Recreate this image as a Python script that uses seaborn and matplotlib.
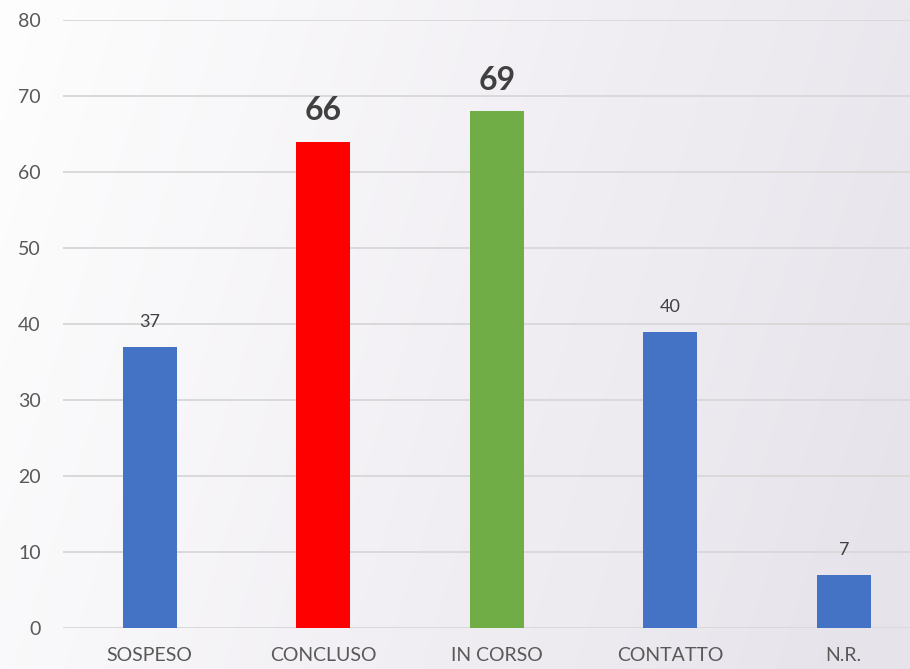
import numpy as np
import pandas as pd
import matplotlib
matplotlib.use("Agg")
import matplotlib.pyplot as plt
import seaborn as sns

categories = ["SOSPESO", "CONCLUSO", "IN CORSO", "CONTATTO", "N.R."]
bar_values = [37, 64, 68, 39, 7]
value_labels = ["37", "66", "69", "40", "7"]
yticks = [0, 10, 20, 30, 40, 50, 60, 70, 80]

colors = ["#4472C4", "#FF0000", "#70AD47", "#4472C4", "#4472C4"]
emphasis = [False, True, True, False, False]

sns.set_theme(style="white")
plt.rcParams["font.family"] = ["Lato", "DejaVu Sans"]

W, H = 910, 669
fig = plt.figure(figsize=(W / 100, H / 100), dpi=100)

# background gradient
bg = fig.add_axes([0, 0, 1, 1], zorder=-10)
xx, yy = np.meshgrid(np.linspace(0, 1, 300), np.linspace(0, 1, 300))
t = np.clip(0.85 * xx + 0.2 * yy, 0, 1)
c0 = np.array([0xFE, 0xFE, 0xFE]) / 255
c1 = np.array([0xE7, 0xE3, 0xEB]) / 255
img = c0[None, None, :] * (1 - t[..., None]) + c1[None, None, :] * t[..., None]
bg.imshow(img, aspect="auto", extent=[0, 1, 0, 1], origin="upper")
bg.axis("off")

ax = fig.add_axes([63 / W, 1 - 628 / H, 1 - 63 / W, (628 - 20) / H])
ax.patch.set_alpha(0)

df = pd.DataFrame({"cat": categories, "val": bar_values})
sns.barplot(data=df, x="cat", y="val", hue="cat", palette=colors,
            width=0.31, legend=False, ax=ax, saturation=1, zorder=3,
            linewidth=0, edgecolor="none")

ax.set_ylim(0, 80)
slot = 173.5
ax.set_xlim(-0.5, -0.5 + (W - 63) / slot)
ax.set_yticks(yticks)
ax.set_yticklabels([str(v) for v in yticks])
ax.yaxis.grid(True, color="#D9D9D9", linewidth=1.4, zorder=0)
ax.set_axisbelow(True)
for s in ax.spines.values():
    s.set_visible(False)
ax.tick_params(axis="y", length=0, pad=16, labelsize=14, labelcolor="#595959")
ax.tick_params(axis="x", length=0, pad=14, labelsize=14, labelcolor="#595959")
ax.set_xlabel("")
ax.set_ylabel("")

for i, (v, lab, big) in enumerate(zip(bar_values, value_labels, emphasis)):
    if big:
        ax.annotate(lab, (i, v), xytext=(0, 12), textcoords="offset points",
                    ha="center", va="bottom", fontsize=23, fontweight="bold",
                    color="#404040")
    else:
        ax.annotate(lab, (i, v), xytext=(0, 12), textcoords="offset points",
                    ha="center", va="bottom", fontsize=13, color="#404040")

fig.savefig("out.png", dpi=100)
